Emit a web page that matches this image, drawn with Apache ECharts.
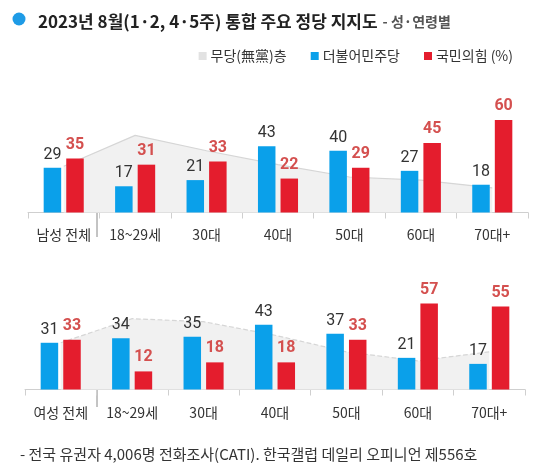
<!DOCTYPE html>
<html>
<head>
<meta charset="utf-8">
<script src="https://cdn.jsdelivr.net/npm/echarts@6/dist/echarts.min.js"></script>
<style>
html,body{margin:0;padding:0;background:#fff;}
#c{width:540px;height:467px;}
</style>
</head>
<body>
<div id="c"></div>
<script>
const categoriesMen = ['남성 전체','18~29세','30대','40대','50대','60대','70대+'];
const categoriesWomen = ['여성 전체','18~29세','30대','40대','50대','60대','70대+'];
const menNone = [30,50,40,31,23,21,16];
const menDem = [29,17,21,43,40,27,18];
const menPPP = [35,31,33,22,29,45,60];
const womenNone = [31,47,45,36,25,19,25];
const womenDem = [31,34,35,43,37,21,17];
const womenPPP = [33,12,18,18,33,57,55];
const seriesNames = ['무당(無黨)층','더불어민주당','국민의힘'];

const KR = '"Noto Sans CJK KR", "Noto Sans", sans-serif';
const BLUE = '#0aa0ea';
const RED = '#e41d2d';

function xAxisOf(cats, gridIndex, margin){
  return {
    type:'category', gridIndex, data:cats, boundaryGap:true,
    axisLine:{lineStyle:{color:'#cfcfcf',width:1}},
    axisTick:{show:true,length:6,lineStyle:{color:'#cfcfcf'}},
    axisLabel:{color:'#333',fontSize:14,fontFamily:KR,margin:margin,interval:0}
  };
}
function yAxisOf(gridIndex){
  return {type:'value',gridIndex,min:0,max:70,show:false,splitLine:{show:false}};
}
function areaSeries(data, idx, dashed){
  return {
    name:seriesNames[0], type:'line', xAxisIndex:idx, yAxisIndex:idx, data,
    symbol:'none', z:1,
    itemStyle:{color:'#e2e2e2'},
    lineStyle:{color:'#d6d6d6',width:1.2,type:dashed?'dashed':'solid'},
    areaStyle:{color:'#f1f1f1',opacity:1}
  };
}
function barSeries(name, data, idx, color, labelColor, bold, dist){
  return {
    name, type:'bar', xAxisIndex:idx, yAxisIndex:idx, data, z:2,
    barWidth:17.5, barGap:'29%',
    itemStyle:{color},
    label:{show:true,position:'top',distance:dist,color:labelColor,fontSize:16,
      fontWeight:bold?'bold':'normal',fontFamily:'Roboto, "Noto Sans", sans-serif'}
  };
}

const chart = echarts.init(document.getElementById('c'), null, {renderer:'canvas'});
chart.setOption({
  animation:false,
  title:{
    left:33, top:8,
    text:'{a|2023년 8월(1·2, 4·5주) 통합 주요 정당 지지도} {b|- 성·연령별}',
    textStyle:{rich:{
      a:{fontSize:17,fontWeight:'bold',color:'#222',fontFamily:KR},
      b:{fontSize:14,color:'#555',fontFamily:KR}
    }}
  },
  legend:{
    right:22, top:44, icon:'rect', itemWidth:8, itemHeight:8, itemGap:24,
    data:seriesNames,
    formatter: n => n === '국민의힘' ? n + ' (%)' : n,
    textStyle:{color:'#333',fontSize:14,fontFamily:KR,padding:[0,0,0,-1]}
  },
  graphic:[
    {type:'circle',shape:{cx:19,cy:19,r:6.5},style:{fill:'#1e9be6'}},
    {type:'line',shape:{x1:97,y1:196,x2:97,y2:237},style:{stroke:'#888',lineWidth:1}},
    {type:'line',shape:{x1:97,y1:372,x2:97,y2:407},style:{stroke:'#888',lineWidth:1}},
    {type:'text',left:20,top:447,style:{
      text:'- 전국 유권자 4,006명 전화조사(CATI). 한국갤럽 데일리 오피니언 제556호',
      fill:'#333',fontSize:15,fontFamily:KR}}
  ],
  grid:[
    {left:28,width:500,top:104.5,height:108},
    {left:25,width:500,top:284,height:105.5}
  ],
  xAxis:[xAxisOf(categoriesMen,0,15), xAxisOf(categoriesWomen,1,16)],
  yAxis:[yAxisOf(0), yAxisOf(1)],
  series:[
    areaSeries(menNone,0,false),
    barSeries(seriesNames[1],menDem,0,BLUE,'#333',false,5),
    barSeries(seriesNames[2],menPPP,0,RED,'#d4504f',true,6),
    areaSeries(womenNone,1,true),
    barSeries(seriesNames[1],womenDem,1,BLUE,'#333',false,5),
    barSeries(seriesNames[2],womenPPP,1,RED,'#d4504f',true,6)
  ]
});
</script>
</body>
</html>
